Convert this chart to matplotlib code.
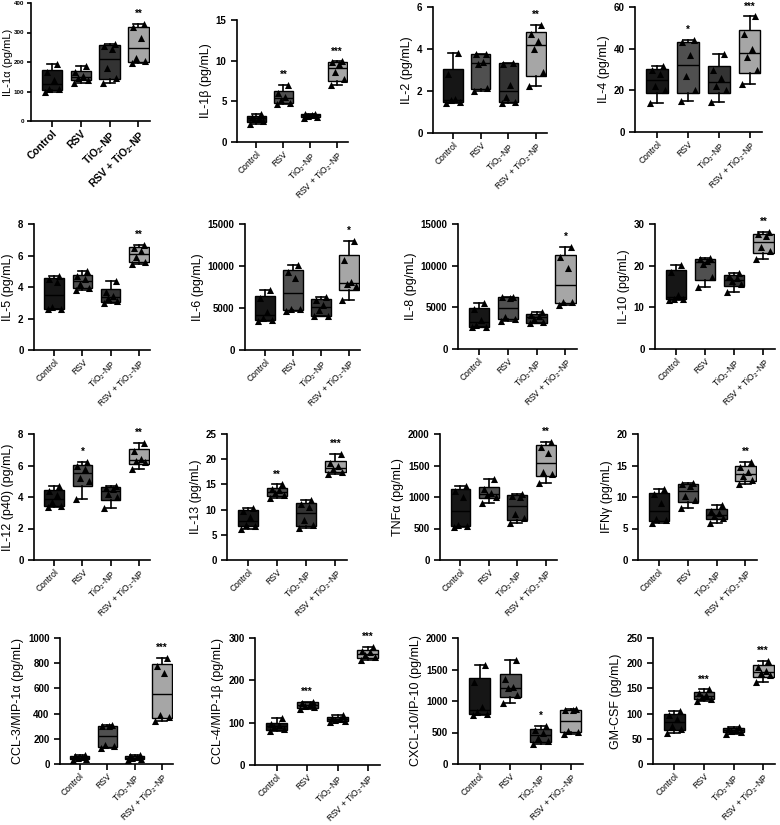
import numpy as np
import matplotlib.pyplot as plt

plt.rcParams['font.family'] = ['Liberation Sans', 'DejaVu Sans']
plt.rcParams['mathtext.default'] = 'regular'

groups = ['Control', 'RSV', 'TiO$_2$-NP', 'RSV + TiO$_2$-NP']
colors = ['#161616', '#505050', '#333333', '#a6a6a6']

labels = ['IL-1α (pg/mL)', 'IL-1β (pg/mL)', 'IL-2 (pg/mL)', 'IL-4 (pg/mL)',
          'IL-5 (pg/mL)', 'IL-6 (pg/mL)', 'IL-8 (pg/mL)', 'IL-10 (pg/mL)',
          'IL-12 (p40) (pg/mL)', 'IL-13 (pg/mL)', 'TNFα (pg/mL)', 'IFNγ (pg/mL)',
          'CCL-3/MIP-1α (pg/mL)', 'CCL-4/MIP-1β (pg/mL)', 'CXCL-10/IP-10 (pg/mL)', 'GM-CSF (pg/mL)']

# six measurements per group: Control, RSV, TiO2-NP, RSV + TiO2-NP
il1a = [[100, 107, 110, 140, 165, 193], [130, 140, 145, 152, 165, 185],
        [130, 145, 178, 245, 255, 262], [195, 203, 215, 283, 317, 330]]
il1b = [[2.2, 2.6, 2.8, 3.0, 3.1, 3.4], [4.7, 4.8, 5.2, 5.5, 6.0, 7.0],
        [3.0, 3.1, 3.2, 3.35, 3.4, 3.5], [7.0, 7.7, 8.6, 9.6, 9.8, 9.9]]
il2 = [[1.45, 1.5, 1.55, 1.6, 2.8, 3.8], [2.0, 2.15, 3.3, 3.4, 3.75, 3.78],
       [1.45, 1.5, 1.7, 2.3, 3.3, 3.35], [2.25, 2.9, 4.0, 4.4, 4.7, 5.15]]
il4 = [[14, 20, 22, 28, 30, 31.5], [15, 20, 27, 37, 43, 44],
       [14.5, 20, 22, 26, 30, 37.5], [23, 30, 36, 40, 47, 55.5]]
il5 = [[2.6, 2.6, 2.7, 4.3, 4.5, 4.7], [3.8, 3.95, 4.2, 4.5, 4.7, 5.0],
       [3.0, 3.1, 3.3, 3.4, 3.7, 4.4], [5.45, 5.6, 5.9, 6.3, 6.5, 6.65]]
il6 = [[3400, 3600, 3800, 4500, 6200, 7200], [4700, 4850, 4900, 8600, 9300, 10100],
       [4000, 4100, 4800, 5400, 6000, 6300], [6000, 7600, 7800, 8100, 10700, 13000]]
il8 = [[2600, 2700, 2900, 3500, 4800, 5500], [3400, 3600, 3800, 6100, 6200, 6300],
       [3100, 3200, 3600, 4000, 4100, 4400], [5300, 5600, 5700, 9700, 11000, 12200]]
il10 = [[11.8, 12, 12, 13, 18.5, 20.2], [15, 17.2, 20.5, 21.2, 21.6, 21.8],
        [13.8, 15.7, 16.3, 17.0, 17.5, 18.2], [21.5, 23.5, 24.5, 27.1, 27.5, 28]]
il12 = [[3.35, 3.45, 3.7, 4.1, 4.4, 4.7], [3.9, 5.0, 5.2, 5.8, 6.0, 6.2],
        [3.3, 4.0, 4.2, 4.5, 4.6, 4.7], [5.8, 6.2, 6.3, 6.4, 6.9, 7.45]]
il13 = [[6.2, 6.8, 7.0, 8.5, 9.7, 10.3], [12.3, 12.8, 13.2, 13.8, 14.0, 15.0],
        [6.3, 7.0, 8.0, 10.6, 11.2, 12.0], [17.0, 17.5, 18.0, 18.6, 19.3, 21.0]]
tnfa = [[520, 540, 560, 1000, 1100, 1180], [910, 1000, 1030, 1070, 1120, 1280],
        [590, 660, 730, 1000, 1020, 1040], [1230, 1360, 1390, 1700, 1800, 1880]]
ifng = [[5.8, 6.3, 6.5, 9.0, 10.4, 11.3], [8.3, 9.6, 10.1, 11.8, 12.0, 12.3],
        [5.9, 6.7, 7.0, 7.4, 7.8, 8.7], [12.0, 12.7, 13.3, 13.9, 14.8, 15.6]]
ccl3 = [[30, 38, 45, 55, 60, 70], [130, 140, 150, 300, 300, 310],
        [30, 40, 45, 55, 62, 70], [340, 370, 390, 720, 780, 840]]
ccl4 = [[80, 84, 90, 94, 97, 110], [132, 136, 140, 144, 147, 150],
        [102, 105, 107, 109, 112, 118], [248, 255, 260, 266, 270, 278]]
cxcl10 = [[770, 800, 820, 900, 1300, 1570], [970, 1090, 1200, 1220, 1350, 1650],
          [320, 360, 420, 500, 540, 600], [480, 510, 530, 850, 860, 880]]
gmcsf = [[62, 70, 75, 90, 98, 105], [125, 129, 132, 136, 140, 148],
         [60, 64, 66, 68, 70, 73], [163, 176, 180, 184, 193, 205]]

data = [il1a, il1b, il2, il4, il5, il6, il8, il10, il12, il13, tnfa, ifng, ccl3, ccl4, cxcl10, gmcsf]

ymaxs = [400, 15, 6, 60, 8, 15000, 15000, 30, 8, 25, 2000, 20, 1000, 300, 2000, 250]
ysteps = [100, 5, 2, 20, 2, 5000, 5000, 10, 2, 5, 500, 5, 200, 100, 500, 50]

stars = [['', '', '', '**'], ['', '**', '', '***'], ['', '', '', '**'], ['', '*', '', '***'],
         ['', '', '', '**'], ['', '', '', '*'], ['', '', '', '*'], ['', '', '', '**'],
         ['', '*', '', '**'], ['', '**', '', '***'], ['', '', '', '**'], ['', '', '', '**'],
         ['', '', '', '***'], ['', '***', '', '***'], ['', '', '*', ''], ['', '***', '', '***']]

# axes frames in pixels: left, right, top, bottom
frames = [(31, 150, 3, 121), (237, 348, 20, 142), (433, 547, 7, 133), (635, 762, 7, 132),
          (34, 150, 224, 350), (245, 360, 224, 350), (458, 577, 224, 349), (655, 775, 224, 349),
          (34, 150, 434, 560), (227, 347, 434, 560), (440, 557, 434, 560), (638, 757, 434, 560),
          (60, 173, 638, 764), (255, 380, 638, 765), (458, 583, 638, 764), (653, 775, 638, 764)]

W, H = 780, 825
fig = plt.figure(figsize=(7.8, 8.25), dpi=100)

offs = np.array([-0.24, 0.24, -0.08, 0.08, -0.18, 0.18])

for i in range(16):
    l, r, t, b = frames[i]
    ax = fig.add_axes([l / W, 1 - b / H, (r - l) / W, (b - t) / H])
    ymax = ymaxs[i]
    stats = []
    for g, vals in enumerate(data[i]):
        v = np.array(vals, dtype=float)
        q1, med, q3 = np.percentile(v, [25, 50, 75], method='weibull')
        stats.append(dict(med=med, q1=q1, q3=q3, whislo=v.min(), whishi=v.max(), fliers=[]))
    bp = ax.bxp(stats, positions=range(4), widths=0.7, patch_artist=True,
                boxprops=dict(linewidth=1.0, edgecolor='black'),
                medianprops=dict(color='black', linewidth=1.0),
                whiskerprops=dict(linewidth=1.2, color='black'),
                capprops=dict(linewidth=1.2, color='black'), capwidths=0.35)
    for patch, c in zip(bp['boxes'], colors):
        patch.set_facecolor(c)
    for g, vals in enumerate(data[i]):
        ax.scatter(g + offs, vals, marker='^', s=26, color='black', zorder=5, linewidths=0)
        if stars[i][g]:
            ax.text(g, max(vals) + 0.04 * ymax, stars[i][g], ha='center', va='bottom',
                    fontsize=7, fontweight='bold')
    ax.set_xlim(-0.72, 3.4)
    ax.set_ylim(0, ymax)
    ax.set_yticks(np.arange(0, ymax + ysteps[i] / 2, ysteps[i]))
    ax.set_xticks(range(4))
    for s in ['top', 'right']:
        ax.spines[s].set_visible(False)
    for s in ['left', 'bottom']:
        ax.spines[s].set_linewidth(1.2)
    ax.tick_params(width=1.2, length=4, labelsize=7)
    ax.tick_params(axis='x', pad=1.5)
    for tl in ax.get_yticklabels():
        tl.set_fontweight('bold')
    if i == 0:
        ax.set_xticklabels(groups, rotation=45, ha='right', rotation_mode='anchor',
                           fontsize=7.5, fontweight='bold')
        ax.tick_params(axis='y', labelsize=4.5, length=3, pad=2)
        ax.set_ylabel(labels[i], fontsize=8)
        ax.yaxis.set_label_coords(-0.15, 0.5)
    else:
        ax.set_xticklabels(groups, rotation=45, ha='right', rotation_mode='anchor', fontsize=6.2)
        ax.set_ylabel(labels[i], fontsize=9, labelpad=3)

fig.savefig('out.png', dpi=100)
